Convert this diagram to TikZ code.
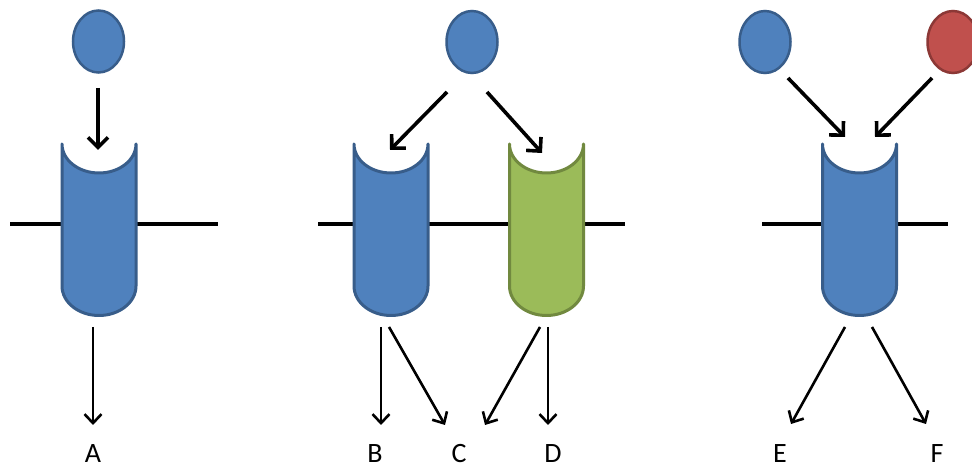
\documentclass[tikz,border=0pt]{standalone}
\usepackage{fontspec}
\setmainfont{Carlito}
\usetikzlibrary{shapes.geometric,arrows.meta}
\definecolor{bluefill}{HTML}{4F81BD}
\definecolor{blueline}{HTML}{385D8A}
\definecolor{greenfill}{HTML}{9BBB59}
\definecolor{greenline}{HTML}{71893F}
\definecolor{redfill}{HTML}{C0504D}
\definecolor{redline}{HTML}{8C3836}
\tikzset{
  ligand/.style={ellipse, inner sep=0pt, minimum width=51pt, minimum height=62pt, line width=2.5pt},
  bluelig/.style={ligand, fill=bluefill, draw=blueline},
  redlig/.style={ligand, fill=redfill, draw=redline},
  membrane/.style={line width=3.5pt, black},
  bindarrow/.style={line width=3.6pt, -{Straight Barb[length=10pt, width=20pt, line width=3.6pt]}},
  outarrow/.style={line width=2.6pt, -{Straight Barb[length=9pt, width=17pt, line width=2.6pt]}},
  lab/.style={font=\fontsize{28}{30}\selectfont, inner sep=0pt},
  pics/receptor/.style n args={2}{code={
    \path[fill=#1, draw=#2, line width=3pt, line join=round]
      (-37,0) arc[start angle=180, end angle=360, x radius=37, y radius=29]
      -- (37,-142) arc[start angle=0, end angle=-180, x radius=37, y radius=29.5]
      -- cycle;
  }}
}
\begin{document}
\begin{tikzpicture}[x=1pt,y=1pt]
\clip (0,0) rectangle (972,468);
\fill[white] (0,0) rectangle (972,468);

% membranes
\coordinate (m1l) at (10,244); \coordinate (m1r) at (218,244);
\coordinate (m2l) at (318,244); \coordinate (m2r) at (625,244);
\coordinate (m3l) at (762,244); \coordinate (m3r) at (948,244);
\draw[membrane] (m1l) -- (m1r);
\draw[membrane] (m2l) -- (m2r);
\draw[membrane] (m3l) -- (m3r);

% receptors
\pic at (99,324) {receptor={bluefill}{blueline}};
\pic at (391,324) {receptor={bluefill}{blueline}};
\pic at (546.5,324) {receptor={greenfill}{greenline}};
\pic at (859.5,324) {receptor={bluefill}{blueline}};

% ligands
\node[bluelig] (l1) at (98.5,426.5) {};
\node[bluelig] (l2) at (472,426) {};
\node[bluelig] (l3) at (765,426) {};
\node[redlig]  (l4) at (953,426) {};

% labels
\node[lab] (A) at (93,14) {A};
\node[lab] (B) at (375,14) {B};
\node[lab] (C) at (459,14) {C};
\node[lab] (D) at (553,14) {D};
\node[lab] (E) at (780,14) {E};
\node[lab] (F) at (937,14) {F};

% connector end points
\coordinate (s1) at (98,380);  \coordinate (t1) at (98,318);
\coordinate (s2a) at (447,376); \coordinate (t2a) at (390,318);
\coordinate (s2b) at (487,376); \coordinate (t2b) at (542,315);
\coordinate (s3a) at (788,390); \coordinate (t3a) at (845,331);
\coordinate (s3b) at (932,390); \coordinate (t3b) at (875,331);

\coordinate (rA) at (93,141);  \coordinate (eA) at (93,43);
\coordinate (rB) at (381,141); \coordinate (eB) at (381,43);
\coordinate (rC) at (389,141); \coordinate (eC) at (445,43);
\coordinate (rC2) at (540,141); \coordinate (eC2) at (485,43);
\coordinate (rD) at (548,141); \coordinate (eD) at (548,43);
\coordinate (rE) at (845,141); \coordinate (eE) at (791,44);
\coordinate (rF) at (872,141); \coordinate (eF) at (926,44);

\draw[bindarrow] (s1) -- (t1);
\draw[bindarrow] (s2a) -- (t2a);
\draw[bindarrow] (s2b) -- (t2b);
\draw[bindarrow] (s3a) -- (t3a);
\draw[bindarrow] (s3b) -- (t3b);

\draw[outarrow] (rA) -- (eA);
\draw[outarrow] (rB) -- (eB);
\draw[outarrow] (rC) -- (eC);
\draw[outarrow] (rC2) -- (eC2);
\draw[outarrow] (rD) -- (eD);
\draw[outarrow] (rE) -- (eE);
\draw[outarrow] (rF) -- (eF);
\end{tikzpicture}
\end{document}
